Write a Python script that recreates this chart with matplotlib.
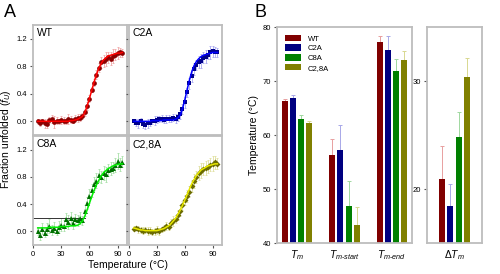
import numpy as np
import matplotlib
matplotlib.use('Agg')
import matplotlib.pyplot as plt
from matplotlib.patches import Patch

plt.rcParams['font.family'] = ['Liberation Sans', 'DejaVu Sans']
plt.rcParams['mathtext.fontset'] = 'custom'
plt.rcParams['mathtext.it'] = 'Liberation Sans:italic'
plt.rcParams['mathtext.rm'] = 'Liberation Sans'

# ---- Panel A data (fraction unfolded vs temperature) ----
temps = [5, 7.5, 10, 12.5, 15, 17.5, 20, 22.5, 25, 27.5, 30, 32.5, 35, 37.5, 40, 42.5,
         45, 47.5, 50, 52.5, 55, 57.5, 60, 62.5, 65, 67.5, 70, 72.5, 75, 77.5, 80,
         82.5, 85, 87.5, 90, 92.5, 95]

wt_fu = [0.00, -0.02, 0.01, -0.03, -0.04, 0.02, 0.03, -0.01, 0.01, 0.00, 0.02, 0.01,
         0.00, 0.03, 0.02, 0.01, 0.04, 0.05, 0.05, 0.08, 0.13, 0.22, 0.33, 0.46, 0.56,
         0.68, 0.78, 0.86, 0.88, 0.90, 0.93, 0.91, 0.95, 0.97, 0.99, 1.00, 0.99]
wt_err = [0.04, 0.05, 0.03, 0.06, 0.05, 0.04, 0.06, 0.08, 0.05, 0.04, 0.06, 0.05,
          0.04, 0.07, 0.05, 0.04, 0.05, 0.06, 0.05, 0.04, 0.05, 0.06, 0.05, 0.04, 0.05,
          0.06, 0.07, 0.08, 0.09, 0.10, 0.08, 0.09, 0.10, 0.08, 0.09, 0.07, 0.06]
wt_fit = [0.00, 0.00, 0.00, 0.00, 0.00, 0.00, 0.00, 0.00, 0.00, 0.00, 0.00, 0.00,
          0.00, 0.00, 0.01, 0.01, 0.02, 0.03, 0.05, 0.07, 0.12, 0.22, 0.33, 0.45, 0.57,
          0.68, 0.77, 0.84, 0.89, 0.92, 0.95, 0.96, 0.97, 0.98, 0.99, 0.99, 1.00]

c2a_fu = [0.00, -0.02, -0.03, 0.01, -0.04, -0.05, -0.03, -0.02, 0.00, 0.01, 0.02, 0.03,
          0.04, 0.02, 0.03, 0.04, 0.03, 0.05, 0.04, 0.06, 0.10, 0.18, 0.28, 0.42, 0.55,
          0.66, 0.76, 0.82, 0.86, 0.88, 0.92, 0.94, 0.97, 1.00, 1.02, 1.01, 1.00]
c2a_err = [0.04, 0.05, 0.06, 0.04, 0.05, 0.06, 0.07, 0.05, 0.04, 0.06, 0.05, 0.04,
           0.05, 0.04, 0.06, 0.05, 0.04, 0.05, 0.06, 0.05, 0.06, 0.07, 0.08, 0.07, 0.08,
           0.09, 0.08, 0.07, 0.09, 0.10, 0.08, 0.09, 0.07, 0.10, 0.08, 0.07, 0.06]
c2a_fit = [0.00, 0.00, 0.00, 0.00, 0.00, 0.00, 0.00, 0.00, 0.01, 0.01, 0.01, 0.01,
           0.01, 0.02, 0.02, 0.02, 0.02, 0.02, 0.03, 0.05, 0.09, 0.18, 0.31, 0.46, 0.60,
           0.72, 0.81, 0.87, 0.91, 0.94, 0.96, 0.97, 0.98, 0.99, 1.00, 1.00, 1.00]

c8a_fu = [0.00, -0.05, 0.04, -0.02, 0.03, 0.08, 0.02, 0.05, 0.01, 0.06, 0.10, 0.08,
          0.18, 0.14, 0.20, 0.12, 0.18, 0.16, 0.20, 0.16, 0.30, 0.42, 0.52, 0.60, 0.70,
          0.74, 0.82, 0.80, 0.86, 0.84, 0.90, 0.92, 0.93, 0.97, 1.03, 0.98, 1.02]
c8a_err = [0.06, 0.07, 0.08, 0.06, 0.09, 0.10, 0.07, 0.08, 0.06, 0.09, 0.10, 0.08,
           0.09, 0.10, 0.08, 0.09, 0.07, 0.08, 0.09, 0.07, 0.08, 0.09, 0.10, 0.09, 0.10,
           0.11, 0.10, 0.09, 0.10, 0.11, 0.09, 0.10, 0.08, 0.10, 0.12, 0.09, 0.08]
c8a_fit = [0.05, 0.05, 0.05, 0.05, 0.05, 0.06, 0.06, 0.06, 0.06, 0.06, 0.07, 0.07,
           0.07, 0.07, 0.08, 0.08, 0.08, 0.09, 0.11, 0.15, 0.22, 0.31, 0.41, 0.51, 0.60,
           0.68, 0.75, 0.81, 0.86, 0.89, 0.92, 0.94, 0.96, 0.97, 0.98, 0.99, 0.99]
c8a_ref_t = [0, 55]
c8a_ref_y = [0.20, 0.20]

c28a_fu = [0.04, 0.05, 0.03, 0.02, 0.01, 0.02, 0.00, 0.01, -0.01, 0.00, 0.02, 0.00,
           0.03, 0.05, 0.08, 0.07, 0.12, 0.15, 0.18, 0.24, 0.30, 0.38, 0.46, 0.52, 0.58,
           0.66, 0.74, 0.80, 0.86, 0.89, 0.91, 0.93, 0.95, 0.98, 0.99, 1.01, 0.99]
c28a_err = [0.04, 0.03, 0.05, 0.04, 0.05, 0.04, 0.06, 0.05, 0.04, 0.05, 0.06, 0.05,
            0.04, 0.05, 0.06, 0.05, 0.06, 0.07, 0.06, 0.07, 0.08, 0.07, 0.08, 0.09, 0.08,
            0.09, 0.10, 0.09, 0.10, 0.11, 0.09, 0.10, 0.09, 0.10, 0.11, 0.09, 0.08]
c28a_fit = [0.05, 0.04, 0.03, 0.02, 0.02, 0.01, 0.01, 0.01, 0.01, 0.01, 0.01, 0.02,
            0.03, 0.04, 0.06, 0.08, 0.11, 0.15, 0.19, 0.25, 0.31, 0.38, 0.46, 0.54, 0.62,
            0.70, 0.76, 0.82, 0.86, 0.90, 0.92, 0.94, 0.96, 0.97, 0.98, 0.99, 0.99]

# ---- Panel B data ----
variants = ['WT', 'C2A', 'C8A', 'C2,8A']
params = [r'$T_m$', r'$T_{m\text{-}start}$', r'$T_{m\text{-}end}$']
tm_vals = [66.3, 66.9, 62.9, 62.3]
tm_errs = [0.3, 0.5, 0.8, 0.4]
tstart_vals = [56.3, 57.2, 46.9, 43.4]
tstart_errs = [3.0, 4.7, 4.6, 3.3]
tend_vals = [77.2, 75.7, 71.8, 73.9]
tend_errs = [1.2, 2.6, 2.3, 1.6]
dtm_vals = [20.9, 18.4, 24.8, 30.4]
dtm_errs = [3.1, 2.1, 2.3, 1.7]

bar_colors = ['#800000', '#000080', '#008000', '#808000']
err_colors = ['#e8a0a0', '#a8a8e8', '#a0d8a0', '#d8d890']
spine_col = '#bdbdbd'

fig = plt.figure(figsize=(5.0, 2.74), dpi=100)


def style_box(ax):
    for s in ax.spines.values():
        s.set_color(spine_col)
        s.set_linewidth(1.3)
    ax.tick_params(colors='#555555', labelcolor='black', labelsize=5.5,
                   length=2.5, width=0.8, pad=1.5)


panels = [
    ('WT', wt_fu, wt_err, wt_fit, 'o', '#8b0000', '#f0a8a8', '#ff0000', 3.4),
    ('C2A', c2a_fu, c2a_err, c2a_fit, 's', '#00008b', '#a8a8f0', '#0000ff', 3.2),
    ('C8A', c8a_fu, c8a_err, c8a_fit, '^', '#007000', '#a8e0a8', '#00ee00', 3.6),
    ('C2,8A', c28a_fu, c28a_err, c28a_fit, 'D', '#6b6b00', '#e0e0a0', '#e8e800', 3.0),
]
positions = [
    [0.066, 0.507, 0.188, 0.402],
    [0.258, 0.507, 0.186, 0.402],
    [0.066, 0.106, 0.188, 0.398],
    [0.258, 0.106, 0.186, 0.398],
]

for i, (name, fu, err, fit, mk, mcol, ecol, fcol, ms) in enumerate(panels):
    ax = fig.add_axes(positions[i])
    ax.errorbar(temps, fu, yerr=err, fmt='none', ecolor=ecol, elinewidth=0.6,
                capsize=1.0, capthick=0.6, zorder=1)
    if name == 'C8A':
        ax.plot(c8a_ref_t, c8a_ref_y, color='#333333', lw=0.7, zorder=2)
    ax.plot(temps, fu, mk, color=mcol, ms=ms, mew=0, zorder=3)
    ax.plot(temps, fit, '-', color=fcol, lw=1.1, zorder=4)
    ax.set_xlim(0, 100)
    ax.set_ylim(-0.2, 1.4)
    ax.set_xticks([0, 30, 60, 90])
    ax.set_yticks([0.0, 0.4, 0.8, 1.2])
    style_box(ax)
    if i % 2 == 0:
        ax.set_yticklabels(['0.0', '0.4', '0.8', '1.2'])
    else:
        ax.set_yticklabels([])
    if i >= 2:
        ax.set_xticklabels(['0', '30', '60', '90'])
    else:
        ax.set_xticklabels([])
    ax.text(0.04, 0.97, name, transform=ax.transAxes, ha='left', va='top', fontsize=7.5)

fig.text(0.013, 0.493, r'Fraction unfolded ($f_U$)', rotation=90, ha='center',
         va='center', fontsize=7.5)
fig.text(0.255, 0.033, 'Temperature (°C)', ha='center', va='center', fontsize=7.5)
fig.text(0.008, 0.955, 'A', fontsize=13, ha='left', va='center')
fig.text(0.508, 0.955, 'B', fontsize=13, ha='left', va='center')

# ---- Panel B bars ----
axb = fig.add_axes([0.554, 0.113, 0.270, 0.788])
axd = fig.add_axes([0.854, 0.113, 0.110, 0.788])
width = 0.125
offsets = [-0.255, -0.085, 0.085, 0.255]
groups = [tm_vals, tstart_vals, tend_vals]
group_errs = [tm_errs, tstart_errs, tend_errs]
xg = np.arange(len(params))

for j, name in enumerate(variants):
    vals = [g[j] for g in groups]
    errs = [g[j] for g in group_errs]
    axb.bar(xg + offsets[j], vals, width, color=bar_colors[j], label=name, zorder=2)
    axb.errorbar(xg + offsets[j], vals, yerr=[np.zeros(len(vals)), errs], fmt='none',
                 ecolor=err_colors[j], elinewidth=0.7, capsize=1.2, capthick=0.7, zorder=1)
    axd.bar(offsets[j], dtm_vals[j], width, color=bar_colors[j], zorder=2)
    axd.errorbar(offsets[j], dtm_vals[j], yerr=[[0], [dtm_errs[j]]], fmt='none',
                 ecolor=err_colors[j], elinewidth=0.7, capsize=1.2, capthick=0.7, zorder=1)

axb.set_xlim(-0.42, 2.42)
axb.set_ylim(40, 80)
axb.set_yticks([40, 50, 60, 70, 80])
axb.set_xticks(xg)
axb.set_xticklabels(params)
style_box(axb)
axb.tick_params(axis='x', length=0, pad=4, labelsize=7.5)
axb.set_ylabel('Temperature (°C)', fontsize=7.5, labelpad=3)

handles = [Patch(facecolor=c, edgecolor='none') for c in bar_colors]
axb.legend(handles, variants, loc='upper left', frameon=False, fontsize=5.5,
           handlelength=2.2, handleheight=0.9, labelspacing=0.25,
           borderaxespad=0.6, handletextpad=0.8)

axd.set_xlim(-0.573, 0.573)
axd.set_ylim(15, 35)
axd.set_yticks([20, 30])
axd.set_xticks([0])
axd.set_xticklabels([r'$\Delta T_m$'])
style_box(axd)
axd.tick_params(axis='x', length=0, pad=4, labelsize=7.5)

fig.savefig('out.png', dpi=100)
